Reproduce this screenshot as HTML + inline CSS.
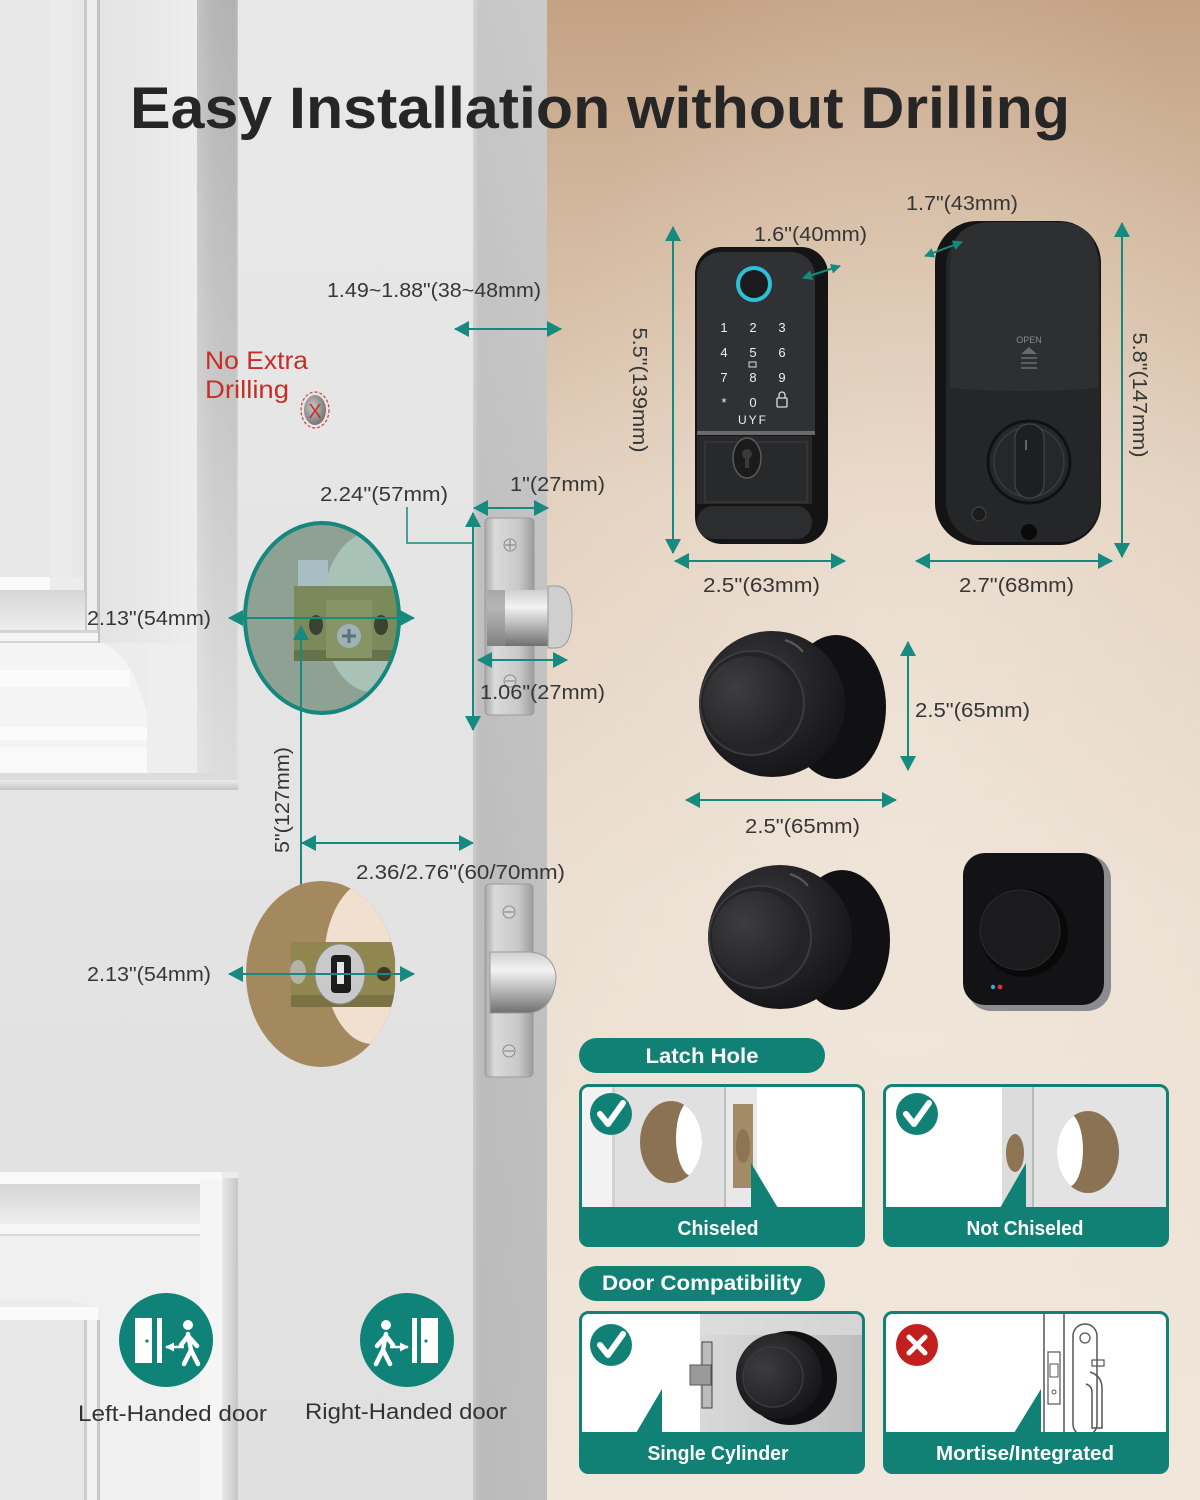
<!DOCTYPE html>
<html><head><meta charset="utf-8"><title>Easy Installation without Drilling</title>
<style>
html,body{margin:0;padding:0;background:#e6e6e6;}
svg{display:block;}
.lb{font-family:"Liberation Sans",sans-serif;font-size:20px;fill:#363636;}
.wb{font-family:"Liberation Sans",sans-serif;font-weight:bold;fill:#ffffff;}
</style></head><body>
<svg xmlns="http://www.w3.org/2000/svg" width="1200" height="1500" viewBox="0 0 1200 1500">
<defs>
<linearGradient id="wall" x1="0" y1="0" x2="0" y2="1">
<stop offset="0" stop-color="#c4a284"/>
<stop offset="0.14" stop-color="#d2b79d"/>
<stop offset="0.33" stop-color="#e3d1bf"/>
<stop offset="0.6" stop-color="#ebdfd1"/>
<stop offset="1" stop-color="#f0e6da"/>
</linearGradient>
<radialGradient id="wallglow" cx="0.55" cy="0.5" r="0.6">
<stop offset="0" stop-color="#f5ede4" stop-opacity="0.45"/>
<stop offset="1" stop-color="#f5ede4" stop-opacity="0"/>
</radialGradient>
<linearGradient id="door" x1="0" y1="0" x2="0" y2="1">
<stop offset="0" stop-color="#e8e8e8"/><stop offset="1" stop-color="#e0e0e0"/>
</linearGradient>
<linearGradient id="shadowV" x1="0" y1="0" x2="1" y2="0">
<stop offset="0" stop-color="#c2c2c2"/><stop offset="0.4" stop-color="#b6b6b6"/><stop offset="0.95" stop-color="#b2b2b2"/><stop offset="1" stop-color="#c8c8c8"/>
</linearGradient>
<linearGradient id="fadeV" x1="0" y1="0" x2="0" y2="1">
<stop offset="0" stop-color="#ffffff" stop-opacity="0"/><stop offset="0.5" stop-color="#ffffff" stop-opacity="0.25"/><stop offset="1" stop-color="#ffffff" stop-opacity="0.55"/>
</linearGradient>
<linearGradient id="bevel" x1="0" y1="0" x2="1" y2="0">
<stop offset="0" stop-color="#e4e4e4"/><stop offset="0.6" stop-color="#e9e9e9"/><stop offset="1" stop-color="#ededed"/>
</linearGradient>
<linearGradient id="shadowR" x1="0" y1="0" x2="1" y2="0">
<stop offset="0" stop-color="#e8e8e8"/><stop offset="1" stop-color="#c6c6c6"/>
</linearGradient>
<linearGradient id="hshade" x1="0" y1="0" x2="0" y2="1">
<stop offset="0" stop-color="#d6d6d6"/><stop offset="1" stop-color="#eeeeee"/>
</linearGradient>
<linearGradient id="botshade" x1="0" y1="0" x2="0" y2="1">
<stop offset="0" stop-color="#ececec"/><stop offset="1" stop-color="#c4c4c4"/>
</linearGradient>
<linearGradient id="strip" x1="0" y1="0" x2="1" y2="0">
<stop offset="0" stop-color="#d2d2d2"/><stop offset="0.08" stop-color="#c2c2c2"/><stop offset="1" stop-color="#c6c6c6"/>
</linearGradient>
<linearGradient id="stripV" x1="0" y1="0" x2="0" y2="1">
<stop offset="0" stop-color="#ffffff" stop-opacity="0.08"/><stop offset="1" stop-color="#000000" stop-opacity="0.04"/>
</linearGradient>
<linearGradient id="silver" x1="0" y1="0" x2="1" y2="0">
<stop offset="0" stop-color="#a8a8a8"/><stop offset="0.2" stop-color="#dadada"/><stop offset="0.7" stop-color="#c8c8c8"/><stop offset="1" stop-color="#9c9c9c"/>
</linearGradient>
<linearGradient id="bolt" x1="0" y1="0" x2="0" y2="1">
<stop offset="0" stop-color="#cfcfcf"/><stop offset="0.3" stop-color="#f3f3f3"/><stop offset="0.6" stop-color="#bdbdbd"/><stop offset="1" stop-color="#707070"/>
</linearGradient>
<radialGradient id="knobG" cx="0.4" cy="0.35" r="0.75">
<stop offset="0" stop-color="#3a3a3d"/><stop offset="0.7" stop-color="#1d1d20"/><stop offset="1" stop-color="#121214"/>
</radialGradient>
<radialGradient id="domeG" cx="0.35" cy="0.35" r="0.8">
<stop offset="0" stop-color="#3d3d40"/><stop offset="1" stop-color="#1f1f22"/>
</radialGradient>
<radialGradient id="holeG" cx="0.4" cy="0.4" r="0.7">
<stop offset="0" stop-color="#c8c8c8"/><stop offset="1" stop-color="#6b6b6b"/>
</radialGradient>
<linearGradient id="brushed" x1="0" y1="0" x2="1" y2="0">
<stop offset="0" stop-color="#d9d9d9"/><stop offset="0.5" stop-color="#cbcbcb"/><stop offset="1" stop-color="#bdbdbd"/>
</linearGradient>
<marker id="ah" viewBox="0 0 15 16" refX="14" refY="8" markerWidth="15" markerHeight="16" markerUnits="userSpaceOnUse" orient="auto-start-reverse"><path d="M0,0L15,8L0,16z" fill="#178a80"/></marker>
<marker id="ahs" viewBox="0 0 10 10" refX="9" refY="5" markerWidth="10" markerHeight="10" markerUnits="userSpaceOnUse" orient="auto-start-reverse"><path d="M0,0L10,5L0,10z" fill="#178a80"/></marker>
<marker id="ahw" viewBox="0 0 10 10" refX="9" refY="5" markerWidth="9" markerHeight="9" markerUnits="userSpaceOnUse" orient="auto-start-reverse"><path d="M0,0L10,5L0,10z" fill="#ffffff"/></marker>
<clipPath id="cc1"><ellipse cx="322" cy="618" rx="77" ry="95"/></clipPath>
<clipPath id="cc2"><ellipse cx="321" cy="974" rx="75" ry="93"/></clipPath>
<clipPath id="k1"><rect x="580" y="1086" width="283" height="159" rx="8"/></clipPath>
<clipPath id="k2"><rect x="884" y="1086" width="283" height="159" rx="8"/></clipPath>
<clipPath id="k3"><rect x="580" y="1313" width="283" height="159" rx="8"/></clipPath>
<clipPath id="k4"><rect x="884" y="1313" width="283" height="159" rx="8"/></clipPath>
<clipPath id="h1"><ellipse cx="671" cy="1142" rx="31" ry="41"/></clipPath>
<clipPath id="h2"><ellipse cx="1088" cy="1152" rx="31" ry="41"/></clipPath>
</defs>

<!-- ===== backgrounds ===== -->
<rect x="0" y="0" width="1200" height="1500" fill="url(#wall)"/>
<rect x="547" y="0" width="653" height="1500" fill="url(#wallglow)"/>
<rect x="0" y="0" width="547" height="1500" fill="url(#door)"/>

<!-- top-left door panel -->
<rect x="0" y="0" width="238" height="790" fill="#ececec"/>
<rect x="0" y="0" width="85" height="577" fill="#e7e7e7"/>
<rect x="50" y="0" width="22" height="577" fill="#ebebeb"/>
<rect x="84" y="0" width="3" height="643" fill="#c9c9c9"/>
<rect x="87" y="0" width="10" height="643" fill="#eeeeee"/>
<rect x="97" y="0" width="3" height="643" fill="#c2c2c2"/>
<rect x="100" y="0" width="97" height="643" fill="url(#bevel)"/>
<rect x="0" y="577" width="50" height="13" fill="#fafafa"/>
<rect x="0" y="590" width="85" height="40" fill="url(#hshade)"/>
<rect x="0" y="630" width="98" height="3" fill="#d3d3d3"/>
<rect x="0" y="633" width="98" height="8" fill="#f5f5f5"/>
<rect x="0" y="641" width="98" height="2" fill="#d5d5d5"/>
<path d="M0,643 L100,643 Q130,650 147,713 L147,775 L0,775 Z" fill="#f4f4f4"/>
<rect x="0" y="670" width="130" height="17" fill="#fbfbfb"/>
<rect x="0" y="727" width="147" height="13" fill="#fbfbfb"/>
<rect x="0" y="747" width="150" height="26" fill="#f9f9f9"/>
<rect x="147" y="643" width="50" height="132" fill="#eeeeee"/>
<rect x="197" y="0" width="41" height="780" fill="url(#shadowV)"/>
<rect x="197" y="0" width="41" height="780" fill="url(#fadeV)"/>
<rect x="0" y="773" width="238" height="7" fill="#dcdcdc"/>
<rect x="0" y="780" width="238" height="10" fill="url(#botshade)"/>

<!-- bottom-left door panel -->
<rect x="0" y="1172" width="238" height="328" fill="#ececec"/>
<rect x="0" y="1172" width="222" height="12" fill="#f9f9f9"/>
<rect x="0" y="1184" width="200" height="40" fill="url(#hshade)"/>
<rect x="0" y="1224" width="200" height="10" fill="#f6f6f6"/>
<rect x="0" y="1234" width="200" height="2" fill="#d9d9d9"/>
<rect x="200" y="1180" width="22" height="320" fill="#f5f5f5"/>
<rect x="222" y="1178" width="16" height="322" fill="url(#shadowR)"/>
<path d="M0,1236 L200,1236 L200,1500 L100,1500 L100,1320 Q95,1300 60,1300 L0,1300 Z" fill="#f0f0f0"/>
<rect x="0" y="1307" width="98" height="13" fill="#fafafa"/>
<rect x="0" y="1320" width="85" height="180" fill="#e8e8e8"/>
<rect x="84" y="1320" width="3" height="180" fill="#cdcdcd"/>
<rect x="87" y="1320" width="10" height="180" fill="#f2f2f2"/>
<rect x="97" y="1320" width="3" height="180" fill="#c8c8c8"/>

<!-- door edge strip -->
<rect x="473" y="0" width="74" height="1500" fill="url(#strip)"/>
<rect x="473" y="0" width="74" height="1500" fill="url(#stripV)"/>

<!-- ===== title ===== -->
<text x="130" y="128" font-family="Liberation Sans, sans-serif" font-weight="bold" font-size="58" fill="#262626" textLength="940" lengthAdjust="spacingAndGlyphs">Easy Installation without Drilling</text>

<!-- ===== door side dimensions ===== -->
<text class="lb" x="327" y="297" textLength="214" lengthAdjust="spacingAndGlyphs">1.49~1.88"(38~48mm)</text>
<line x1="455" y1="329" x2="561" y2="329" stroke="#178a80" stroke-width="2" marker-start="url(#ah)" marker-end="url(#ah)"/>

<text x="205" y="369" font-family="Liberation Sans, sans-serif" font-size="25" fill="#c62f27" textLength="103" lengthAdjust="spacingAndGlyphs">No Extra</text>
<text x="205" y="398" font-family="Liberation Sans, sans-serif" font-size="25" fill="#c62f27" textLength="84" lengthAdjust="spacingAndGlyphs">Drilling</text>
<ellipse cx="315" cy="410" rx="14" ry="18" fill="none" stroke="#d33a32" stroke-width="1.2" stroke-dasharray="3 2"/>
<ellipse cx="315" cy="410" rx="11" ry="15" fill="url(#holeG)"/>
<text x="315" y="418" text-anchor="middle" font-family="Liberation Sans, sans-serif" font-size="20" fill="#c62f27">X</text>

<!-- top hole -->
<g clip-path="url(#cc1)">
<rect x="240" y="520" width="170" height="200" fill="#8fa193"/>
<ellipse cx="372" cy="612" rx="50" ry="80" fill="#a9c2b8"/>
<rect x="298" y="560" width="30" height="30" fill="#a9bec3"/>
<rect x="294" y="586" width="106" height="75" fill="#7b8a5b"/>
<rect x="294" y="650" width="106" height="11" fill="#66734a"/>
<rect x="326" y="600" width="46" height="58" fill="#869466"/>
<ellipse cx="316" cy="625" rx="7" ry="10" fill="#3b4330"/>
<ellipse cx="381" cy="625" rx="7" ry="10" fill="#3b4330"/>
<circle cx="349" cy="636" r="12" fill="#9db1b6"/>
<path d="M342,636 h14 M349,629 v14" stroke="#5d7076" stroke-width="3"/>
</g>
<ellipse cx="322" cy="618" rx="77" ry="95" fill="none" stroke="#15877c" stroke-width="4"/>

<text class="lb" x="87" y="625" textLength="124" lengthAdjust="spacingAndGlyphs">2.13"(54mm)</text>
<line x1="229" y1="618" x2="414" y2="618" stroke="#178a80" stroke-width="2" marker-start="url(#ah)" marker-end="url(#ah)"/>

<!-- 2.24 leader -->
<text class="lb" x="320" y="501" textLength="128" lengthAdjust="spacingAndGlyphs">2.24"(57mm)</text>
<polyline points="407,507 407,543 473,543" fill="none" stroke="#178a80" stroke-width="1.5"/>

<!-- top latch plate -->
<rect x="485" y="518" width="49" height="197" rx="4" fill="url(#silver)" stroke="#9a9a9a" stroke-width="1"/>
<circle cx="510" cy="545" r="6" fill="#d5d5d5" stroke="#8a8a8a"/>
<path d="M505,545 h10 M510,540 v10" stroke="#8a8a8a" stroke-width="1.2"/>
<circle cx="510" cy="681" r="6" fill="#d5d5d5" stroke="#8a8a8a"/>
<path d="M505,681 h10" stroke="#8a8a8a" stroke-width="1.2"/>
<rect x="487" y="590" width="70" height="56" fill="url(#bolt)"/>
<rect x="487" y="590" width="18" height="56" fill="#8d8d8d" opacity="0.6"/>
<path d="M548,586 h8 q16,0 16,30 q0,32 -16,32 h-8 z" fill="#cfcfcf" stroke="#9a9a9a"/>

<text class="lb" x="510" y="491" textLength="95" lengthAdjust="spacingAndGlyphs">1"(27mm)</text>
<line x1="474" y1="508" x2="548" y2="508" stroke="#178a80" stroke-width="2" marker-start="url(#ah)" marker-end="url(#ah)"/>
<line x1="473" y1="513" x2="473" y2="730" stroke="#178a80" stroke-width="2" marker-start="url(#ah)" marker-end="url(#ah)"/>
<line x1="478" y1="660" x2="567" y2="660" stroke="#178a80" stroke-width="2" marker-start="url(#ah)" marker-end="url(#ah)"/>
<text class="lb" x="480" y="699" textLength="125" lengthAdjust="spacingAndGlyphs">1.06"(27mm)</text>

<!-- 5" vertical -->
<line x1="301" y1="626" x2="301" y2="968" stroke="#178a80" stroke-width="2" marker-start="url(#ah)" marker-end="url(#ah)"/>
<text class="lb" x="282" y="807" text-anchor="middle" textLength="106" lengthAdjust="spacingAndGlyphs" transform="rotate(-90 282 800)">5"(127mm)</text>

<!-- backset -->
<line x1="302" y1="843" x2="473" y2="843" stroke="#178a80" stroke-width="2" marker-start="url(#ah)" marker-end="url(#ah)"/>
<text class="lb" x="356" y="879" textLength="209" lengthAdjust="spacingAndGlyphs">2.36/2.76"(60/70mm)</text>

<!-- bottom hole -->
<g clip-path="url(#cc2)">
<rect x="240" y="878" width="170" height="200" fill="#a4895f"/>
<ellipse cx="372" cy="962" rx="48" ry="82" fill="#f1dfcf"/>
<rect x="291" y="942" width="104" height="65" fill="#8f8650"/>
<rect x="291" y="995" width="104" height="12" fill="#7a7242"/>
<ellipse cx="298" cy="972" rx="8" ry="12" fill="#b3b3a5"/>
<ellipse cx="340" cy="974" rx="25" ry="30" fill="#c9c9c9" stroke="#8a8a8a"/>
<rect x="331" y="955" width="20" height="38" rx="4" fill="#1c1c1c"/>
<rect x="337" y="962" width="7" height="22" fill="#e5e5e5"/>
<circle cx="384" cy="974" r="7" fill="#3c3a28"/>
</g>
<text class="lb" x="87" y="981" textLength="124" lengthAdjust="spacingAndGlyphs">2.13"(54mm)</text>
<line x1="229" y1="974" x2="414" y2="974" stroke="#178a80" stroke-width="2" marker-start="url(#ah)" marker-end="url(#ah)"/>

<!-- bottom latch plate -->
<rect x="485" y="884" width="48" height="193" rx="4" fill="url(#silver)" stroke="#9a9a9a" stroke-width="1"/>
<circle cx="509" cy="912" r="6" fill="#d5d5d5" stroke="#8a8a8a"/>
<path d="M504,912 h10" stroke="#8a8a8a" stroke-width="1.2"/>
<circle cx="509" cy="1051" r="6" fill="#d5d5d5" stroke="#8a8a8a"/>
<path d="M504,1051 h10" stroke="#8a8a8a" stroke-width="1.2"/>
<path d="M490,952 h40 q24,2 26,25 q-2,32 -26,36 h-40 z" fill="url(#bolt)" stroke="#9a9a9a"/>

<!-- handed icons -->
<circle cx="166" cy="1340" r="47" fill="#0f8378"/>
<rect x="135" y="1318" width="17" height="45" fill="#ffffff"/>
<circle cx="147" cy="1341" r="1.6" fill="#0f8378"/>
<rect x="157" y="1318" width="5" height="45" fill="#ffffff"/>
<line x1="184" y1="1347" x2="166" y2="1347" stroke="#fff" stroke-width="2.5" marker-end="url(#ahw)"/>
<circle cx="188" cy="1325" r="5" fill="#fff"/>
<path d="M188,1334 L191,1350 L184,1364 M191,1350 L198,1364 M188,1336 L181,1345 M189,1337 L197,1346" stroke="#fff" stroke-width="4.5" stroke-linecap="round" fill="none"/>

<circle cx="407" cy="1340" r="47" fill="#0f8378"/>
<rect x="421" y="1318" width="17" height="45" fill="#ffffff"/>
<circle cx="426" cy="1341" r="1.6" fill="#0f8378"/>
<rect x="412" y="1318" width="5" height="45" fill="#ffffff"/>
<line x1="390" y1="1347" x2="408" y2="1347" stroke="#fff" stroke-width="2.5" marker-end="url(#ahw)"/>
<circle cx="386" cy="1325" r="5" fill="#fff"/>
<path d="M386,1334 L383,1350 L390,1364 M383,1350 L376,1364 M386,1336 L393,1345 M385,1337 L377,1346" stroke="#fff" stroke-width="4.5" stroke-linecap="round" fill="none"/>

<text x="78" y="1421" font-family="Liberation Sans, sans-serif" font-size="22" fill="#333" textLength="189" lengthAdjust="spacingAndGlyphs">Left-Handed door</text>
<text x="305" y="1419" font-family="Liberation Sans, sans-serif" font-size="22" fill="#333" textLength="202" lengthAdjust="spacingAndGlyphs">Right-Handed door</text>

<!-- ===== keypad lock ===== -->
<text class="lb" x="754" y="241" textLength="113" lengthAdjust="spacingAndGlyphs">1.6"(40mm)</text>
<rect x="695" y="247" width="133" height="297" rx="27" fill="#141414"/>
<path d="M697,276 a24,24 0 0 1 24,-24 h70 a24,24 0 0 1 24,24 v156 h-118z" fill="#303134"/>
<rect x="697" y="431" width="118" height="4" fill="#6a6a6c"/>
<rect x="697" y="436" width="115" height="68" fill="#28292b"/>
<rect x="705" y="442" width="102" height="60" fill="none" stroke="#3d3e40"/>
<rect x="697" y="506" width="115" height="33" rx="16" fill="#2c2d2f"/>
<circle cx="754" cy="284" r="16" fill="#1b1b1d" stroke="#2ec0d6" stroke-width="4"/>
<g font-family="Liberation Sans, sans-serif" font-size="13" fill="#eeeeee" text-anchor="middle">
<text x="724" y="332">1</text><text x="753" y="332">2</text><text x="782" y="332">3</text>
<text x="724" y="357">4</text><text x="753" y="357">5</text><text x="782" y="357">6</text>
<text x="724" y="382">7</text><text x="753" y="382">8</text><text x="782" y="382">9</text>
<text x="724" y="407">*</text><text x="753" y="407">0</text>
<text x="753" y="424" font-size="12" letter-spacing="2">UYF</text>
</g>
<rect x="749" y="362" width="7" height="5" fill="none" stroke="#ddd" stroke-width="1"/>
<rect x="777" y="398" width="10" height="9" rx="1" fill="none" stroke="#ddd" stroke-width="1.3"/>
<path d="M779,398 v-3 a3,3 0 0 1 6,0 v3" fill="none" stroke="#ddd" stroke-width="1.3"/>
<ellipse cx="747" cy="458" rx="14" ry="20" fill="#1b1b1c" stroke="#5a5a5c" stroke-width="1.5"/>
<circle cx="747" cy="454" r="5" fill="#3a3a3c"/>
<rect x="745" y="455" width="4" height="13" fill="#3a3a3c"/>
<line x1="803" y1="278" x2="840" y2="266" stroke="#178a80" stroke-width="2" marker-start="url(#ahs)" marker-end="url(#ahs)"/>
<line x1="673" y1="227" x2="673" y2="553" stroke="#178a80" stroke-width="2" marker-start="url(#ah)" marker-end="url(#ah)"/>
<text class="lb" x="640" y="397" text-anchor="middle" textLength="125" lengthAdjust="spacingAndGlyphs" transform="rotate(90 640 390)">5.5"(139mm)</text>
<line x1="675" y1="561" x2="845" y2="561" stroke="#178a80" stroke-width="2" marker-start="url(#ah)" marker-end="url(#ah)"/>
<text class="lb" x="703" y="592" textLength="117" lengthAdjust="spacingAndGlyphs">2.5"(63mm)</text>

<!-- ===== interior lock ===== -->
<text class="lb" x="906" y="210" textLength="112" lengthAdjust="spacingAndGlyphs">1.7"(43mm)</text>
<rect x="935" y="221" width="166" height="324" rx="42" fill="#141415"/>
<rect x="946" y="226" width="154" height="316" rx="40" fill="#252628"/>
<path d="M950,264 q0,-42 42,-42 h64 q42,0 42,42 v124 q-74,6 -148,0 z" fill="#2e2f31"/>
<circle cx="1029" cy="462" r="41" fill="#26272a" stroke="#111" stroke-width="3"/>
<circle cx="1029" cy="462" r="35" fill="none" stroke="#3a3b3d" stroke-width="1.5"/>
<rect x="1015" y="424" width="29" height="74" rx="14" fill="#1e1f21" stroke="#4a4b4e"/>
<rect x="1025" y="440" width="2" height="10" fill="#666"/>
<text x="1029" y="343" text-anchor="middle" font-family="Liberation Sans, sans-serif" font-size="9" fill="#8a8a8a">OPEN</text>
<path d="M1021,354 L1029,347 L1037,354 z" fill="#6a6a6a"/>
<rect x="1021" y="357" width="16" height="2" fill="#5e5e5e"/>
<rect x="1021" y="362" width="16" height="2" fill="#5e5e5e"/>
<rect x="1021" y="367" width="16" height="2" fill="#5e5e5e"/>
<circle cx="979" cy="514" r="7" fill="#1c1c1d" stroke="#46464a"/>
<circle cx="1029" cy="532" r="8" fill="#0a0a0a"/>
<line x1="925" y1="256" x2="962" y2="242" stroke="#178a80" stroke-width="2" marker-start="url(#ahs)" marker-end="url(#ahs)"/>
<line x1="1122" y1="223" x2="1122" y2="557" stroke="#178a80" stroke-width="2" marker-start="url(#ah)" marker-end="url(#ah)"/>
<text class="lb" x="1140" y="402" text-anchor="middle" textLength="125" lengthAdjust="spacingAndGlyphs" transform="rotate(90 1140 395)">5.8"(147mm)</text>
<line x1="916" y1="561" x2="1112" y2="561" stroke="#178a80" stroke-width="2" marker-start="url(#ah)" marker-end="url(#ah)"/>
<text class="lb" x="959" y="592" textLength="115" lengthAdjust="spacingAndGlyphs">2.7"(68mm)</text>

<!-- ===== knob 1 ===== -->
<ellipse cx="836" cy="707" rx="50" ry="72" fill="#111113"/>
<circle cx="772" cy="704" r="73" fill="url(#knobG)"/>
<circle cx="752" cy="703" r="52" fill="#242427" stroke="#3b3b3f" stroke-width="2"/>
<circle cx="749" cy="702" r="46" fill="url(#domeG)"/>
<path d="M785,640 q12,4 18,12" stroke="#5a5a5e" stroke-width="2" fill="none"/>
<line x1="908" y1="642" x2="908" y2="770" stroke="#178a80" stroke-width="2" marker-start="url(#ah)" marker-end="url(#ah)"/>
<text class="lb" x="915" y="717" textLength="115" lengthAdjust="spacingAndGlyphs">2.5"(65mm)</text>
<line x1="686" y1="800" x2="896" y2="800" stroke="#178a80" stroke-width="2" marker-start="url(#ah)" marker-end="url(#ah)"/>
<text class="lb" x="745" y="833" textLength="115" lengthAdjust="spacingAndGlyphs">2.5"(65mm)</text>

<!-- ===== knob 2 ===== -->
<ellipse cx="842" cy="940" rx="48" ry="70" fill="#111113"/>
<circle cx="780" cy="937" r="72" fill="url(#knobG)"/>
<circle cx="760" cy="937" r="51" fill="#242427" stroke="#3b3b3f" stroke-width="2"/>
<circle cx="757" cy="936" r="45" fill="url(#domeG)"/>
<path d="M790,874 q12,4 18,12" stroke="#5a5a5e" stroke-width="2" fill="none"/>

<!-- ===== square device ===== -->
<rect x="967" y="855" width="144" height="156" rx="24" fill="#8c8c8f"/>
<rect x="963" y="853" width="141" height="152" rx="22" fill="#131315"/>
<circle cx="1024" cy="933" r="44" fill="#09090a"/>
<circle cx="1020" cy="930" r="40" fill="#1b1b1d" stroke="#2c2c2f"/>
<circle cx="993" cy="987" r="2.2" fill="#3aa8e0"/>
<circle cx="1000" cy="987" r="2.4" fill="#e03030"/>

<!-- ===== Latch Hole pill ===== -->
<rect x="579" y="1038" width="246" height="35" rx="17.5" fill="#118176"/>
<text class="wb" x="702" y="1063" font-size="21" text-anchor="middle" textLength="113" lengthAdjust="spacingAndGlyphs">Latch Hole</text>

<!-- card 1 Chiseled -->
<g clip-path="url(#k1)">
<rect x="580" y="1086" width="283" height="159" fill="#ffffff"/>
<rect x="580" y="1086" width="145" height="125" fill="#e0e0e0"/>
<rect x="580" y="1086" width="32" height="125" fill="#f2f2f2"/>
<rect x="612" y="1086" width="3" height="125" fill="#d2d2d2"/>
<ellipse cx="671" cy="1142" rx="31" ry="41" fill="#8b7253"/>
<g clip-path="url(#h1)"><ellipse cx="692" cy="1138" rx="16" ry="38" fill="#ffffff"/></g>
<rect x="724" y="1086" width="2" height="125" fill="#bdbdbd"/>
<rect x="726" y="1086" width="31" height="125" fill="#e8e8e8"/>
<rect x="733" y="1104" width="20" height="84" fill="#a38b68"/>
<ellipse cx="743" cy="1146" rx="7" ry="17" fill="#8c7454"/>
<rect x="757" y="1086" width="106" height="125" fill="#ffffff"/>
<rect x="580" y="1207" width="283" height="40" fill="#118176"/>
<path d="M751,1163 L751,1208 L778,1208 Z" fill="#118176"/>
</g>
<rect x="580.5" y="1085.5" width="283" height="160" rx="8" fill="none" stroke="#118176" stroke-width="3"/>
<circle cx="611" cy="1114" r="21" fill="#118176"/>
<path d="M600,1114 L608,1124 L623,1103" stroke="#fff" stroke-width="6" fill="none" stroke-linecap="round" stroke-linejoin="round"/>
<text class="wb" x="718" y="1235" font-size="20" text-anchor="middle" textLength="81" lengthAdjust="spacingAndGlyphs">Chiseled</text>

<!-- card 2 Not Chiseled -->
<g clip-path="url(#k2)">
<rect x="884" y="1086" width="283" height="159" fill="#ffffff"/>
<rect x="1002" y="1086" width="30" height="125" fill="#dcdcdc"/>
<ellipse cx="1015" cy="1153" rx="9" ry="19" fill="#8d7554"/>
<rect x="1032" y="1086" width="2" height="125" fill="#b9b9b9"/>
<rect x="1034" y="1086" width="133" height="125" fill="#e3e3e3"/>
<ellipse cx="1088" cy="1152" rx="31" ry="41" fill="#8b7253"/>
<g clip-path="url(#h2)"><ellipse cx="1068" cy="1150" rx="15" ry="37" fill="#ffffff"/></g>
<rect x="884" y="1207" width="283" height="40" fill="#118176"/>
<path d="M1026,1163 L1026,1208 L1000,1208 Z" fill="#118176"/>
</g>
<rect x="884.5" y="1085.5" width="283" height="160" rx="8" fill="none" stroke="#118176" stroke-width="3"/>
<circle cx="917" cy="1114" r="21" fill="#118176"/>
<path d="M906,1114 L914,1124 L929,1103" stroke="#fff" stroke-width="6" fill="none" stroke-linecap="round" stroke-linejoin="round"/>
<text class="wb" x="1025" y="1235" font-size="20" text-anchor="middle" textLength="117" lengthAdjust="spacingAndGlyphs">Not Chiseled</text>

<!-- ===== Door Compatibility pill ===== -->
<rect x="579" y="1266" width="246" height="35" rx="17.5" fill="#118176"/>
<text class="wb" x="702" y="1290" font-size="21" text-anchor="middle" textLength="200" lengthAdjust="spacingAndGlyphs">Door Compatibility</text>

<!-- card 3 Single Cylinder -->
<g clip-path="url(#k3)">
<rect x="580" y="1313" width="283" height="159" fill="#ffffff"/>
<rect x="700" y="1313" width="163" height="125" fill="url(#brushed)"/>
<rect x="700" y="1313" width="163" height="22" fill="#dedede" opacity="0.7"/>
<rect x="702" y="1342" width="10" height="66" fill="#bcbcbc" stroke="#444" stroke-width="1"/>
<rect x="690" y="1365" width="21" height="20" fill="#9a9a9a" stroke="#555" stroke-width="1"/>
<circle cx="790" cy="1378" r="47" fill="#101012"/>
<circle cx="779" cy="1376" r="43" fill="url(#knobG)"/>
<circle cx="773" cy="1377" r="30" fill="url(#domeG)" stroke="#3a3a3e" stroke-width="1.5"/>
<rect x="580" y="1432" width="283" height="41" fill="#118176"/>
<path d="M662,1389 L662,1433 L636,1433 Z" fill="#118176"/>
</g>
<rect x="580.5" y="1312.5" width="283" height="160" rx="8" fill="none" stroke="#118176" stroke-width="3"/>
<circle cx="611" cy="1345" r="21" fill="#118176"/>
<path d="M600,1345 L608,1355 L623,1334" stroke="#fff" stroke-width="6" fill="none" stroke-linecap="round" stroke-linejoin="round"/>
<text class="wb" x="718" y="1460" font-size="20" text-anchor="middle" textLength="141" lengthAdjust="spacingAndGlyphs">Single Cylinder</text>

<!-- card 4 Mortise/Integrated -->
<g clip-path="url(#k4)">
<rect x="884" y="1313" width="283" height="159" fill="#ffffff"/>
<line x1="1044" y1="1313" x2="1044" y2="1433" stroke="#555" stroke-width="1.5"/>
<line x1="1064" y1="1313" x2="1064" y2="1433" stroke="#555" stroke-width="1.5"/>
<rect x="1048" y="1352" width="12" height="52" fill="#fff" stroke="#555" stroke-width="1.2"/>
<rect x="1050" y="1364" width="8" height="13" fill="none" stroke="#555" stroke-width="1"/>
<circle cx="1054" cy="1392" r="2" fill="none" stroke="#555"/>
<rect x="1073" y="1324" width="24" height="112" rx="12" fill="none" stroke="#555" stroke-width="1.5"/>
<circle cx="1085" cy="1338" r="5" fill="none" stroke="#555" stroke-width="1.3"/>
<rect x="1092" y="1360" width="12" height="6" fill="none" stroke="#555" stroke-width="1.2"/>
<path d="M1090,1372 q12,4 12,16 v40 h-10 v-36 q0,-6 -6,-8" fill="none" stroke="#555" stroke-width="1.5"/>
<rect x="884" y="1432" width="283" height="41" fill="#118176"/>
<path d="M1041,1389 L1041,1433 L1014,1433 Z" fill="#118176"/>
</g>
<rect x="884.5" y="1312.5" width="283" height="160" rx="8" fill="none" stroke="#118176" stroke-width="3"/>
<circle cx="917" cy="1345" r="21" fill="#c21f1f"/>
<path d="M909,1337 L925,1353 M925,1337 L909,1353" stroke="#fff" stroke-width="5" stroke-linecap="round"/>
<text class="wb" x="1025" y="1460" font-size="20" text-anchor="middle" textLength="178" lengthAdjust="spacingAndGlyphs">Mortise/Integrated</text>

</svg>
</body></html>
